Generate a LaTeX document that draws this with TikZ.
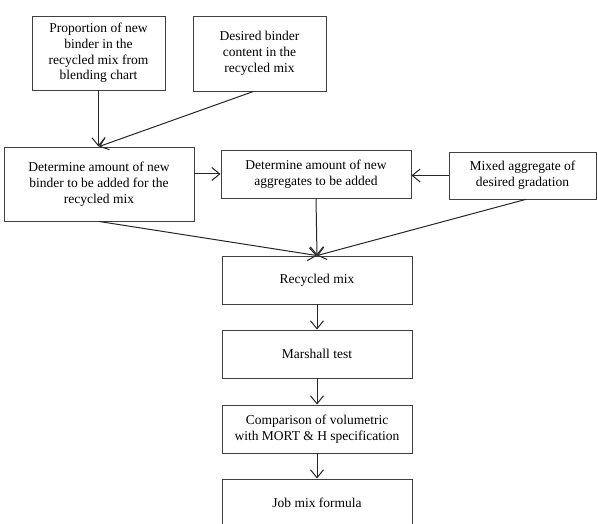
\documentclass[tikz,border=0pt]{standalone}
\usepackage{fontspec}
\setmainfont{Liberation Serif}
\usetikzlibrary{arrows.meta}
\begin{document}
\begin{tikzpicture}[x=1pt,y=-1pt,
  box/.style={draw=black!75, line width=0.9pt, rectangle, align=center, inner sep=2pt,
    font=\fontsize{13.5}{15.8}\selectfont, text=black},
  conn/.style={draw=black!85, line width=1pt, -{Straight Barb[length=8pt,width=13pt,line width=1pt]}}]
\useasboundingbox (0,0) rectangle (598,524);
\node[box, minimum width=133pt, minimum height=74pt] (A) at (98.5,53) {Proportion of new\\binder in the\\recycled mix from\\blending chart};
\node[box, minimum width=133pt, minimum height=75pt] (B) at (259.5,53.5) {Desired binder\\content in the\\recycled mix};
\node[box, minimum width=190pt, minimum height=74pt] (C) at (99,184) {Determine amount of new\\binder to be added for the\\recycled mix};
\node[box, minimum width=190pt, minimum height=48pt] (D) at (316,174) {Determine amount of new\\aggregates to be added};
\node[box, minimum width=147pt, minimum height=47pt] (E) at (522.5,175.5) {Mixed aggregate of\\desired gradation};
\node[box, minimum width=190pt, minimum height=48pt] (F) at (317,280) {Recycled mix};
\node[box, minimum width=190pt, minimum height=48pt] (G) at (317,354) {Marshall test};
\node[box, minimum width=190pt, minimum height=48pt] (H) at (317,429) {Comparison of volumetric\\with MORT \& H specification};
\node[box, minimum width=190pt, minimum height=48pt] (I) at (317,503) {Job mix formula};
\draw[conn] (A.south) -- (A.south |- C.north);
\draw[conn] ([xshift=-6pt]B.south) -- (C.north);
\draw[conn] (C.east |- D.west) -- (D.west);
\draw[conn] (E.west) -- (D.east |- E.west);
\draw[conn] (C.south) -- (F.north);
\draw[conn] (D.south) -- (F.north);
\draw[conn] ([xshift=3pt]E.south) -- (F.north);
\draw[conn] (F.south) -- (G.north);
\draw[conn] (G.south) -- (H.north);
\draw[conn] (H.south) -- (I.north);
\end{tikzpicture}
\end{document}
